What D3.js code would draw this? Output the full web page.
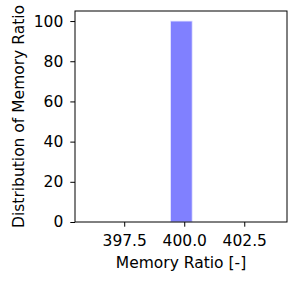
<!DOCTYPE html>
<html>
<head>
<meta charset="utf-8">
<script src="https://cdn.jsdelivr.net/npm/d3@7"></script>
<style>
  body { margin: 0; background: #fff; }
  svg { display: block; }
  text { font-family: "DejaVu Sans", sans-serif; fill: #000; }
</style>
</head>
<body>
<svg id="chart" width="299" height="283"></svg>
<script>
// histogram bins (one populated bin) and axis setup
const binStarts = [399.43];
const binEnds = [400.33];
const binCounts = [100];
const xTicks = [397.5, 400.0, 402.5];
const yTicks = [0, 20, 40, 60, 80, 100];
const xDomain = [395.45, 404.28];
const yDomain = [0, 105];

const svg = d3.select('#chart');
const mLeft = 75, mRight = 287, mTop = 11, mBottom = 222;

const x = d3.scaleLinear().domain(xDomain).range([mLeft, mRight]);
const y = d3.scaleLinear().domain(yDomain).range([mBottom, mTop]);

svg.append('g')
  .selectAll('rect')
  .data(binCounts)
  .enter().append('rect')
  .attr('x', (d, i) => x(binStarts[i]))
  .attr('width', (d, i) => x(binEnds[i]) - x(binStarts[i]))
  .attr('y', d => y(d))
  .attr('height', d => y(0) - y(d))
  .style('fill', '#8080ff')
  .style('stroke', '#e6e6ff')
  .style('stroke-width', 0.8);

// axes
const xAxis = svg.append('g')
  .attr('transform', `translate(0,${mBottom})`)
  .call(d3.axisBottom(x).tickValues(xTicks).tickFormat(d3.format('.1f')).tickSize(4.7).tickPadding(8));
const yAxis = svg.append('g')
  .attr('transform', `translate(${mLeft},0)`)
  .call(d3.axisLeft(y).tickValues(yTicks).tickSize(4.7).tickPadding(7));

[xAxis, yAxis].forEach(a => {
  a.select('.domain').remove();
  a.selectAll('line').style('stroke', '#000').style('stroke-width', 1);
  a.selectAll('text').style('font-size', '15.5px').style('font-family', '"DejaVu Sans", sans-serif');
});

// frame
svg.append('rect')
  .attr('x', mLeft).attr('y', mTop)
  .attr('width', mRight - mLeft).attr('height', mBottom - mTop)
  .style('fill', 'none').style('stroke', '#000').style('stroke-width', 1);

svg.append('text')
  .attr('x', (mLeft + mRight) / 2).attr('y', 268)
  .attr('text-anchor', 'middle')
  .style('font-size', '15.5px')
  .text('Memory Ratio [-]');

svg.append('text')
  .attr('transform', `translate(24,${(mTop + mBottom) / 2}) rotate(-90)`)
  .attr('text-anchor', 'middle')
  .style('font-size', '15.5px')
  .text('Distribution of Memory Ratio');
</script>
</body>
</html>
